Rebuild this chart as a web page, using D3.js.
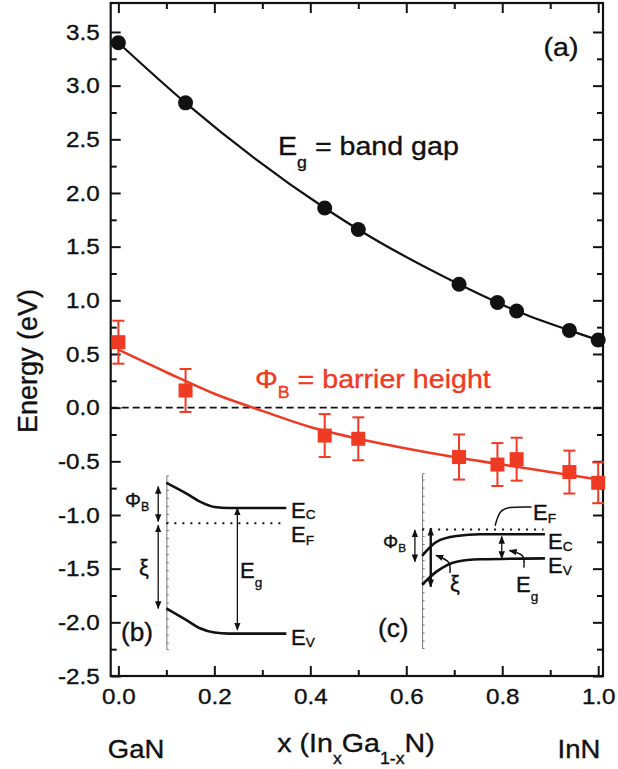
<!DOCTYPE html>
<html>
<head>
<meta charset="utf-8">
<script src="https://cdn.jsdelivr.net/npm/d3@7"></script>
<style>
  body { margin: 0; background: white; }
  svg { display: block; font-family: "Liberation Sans", Arial, sans-serif; }
  svg text { stroke-width: 0.35px; }
</style>
</head>
<body>
<script>
// In(x)Ga(1-x)N composition and measured energies (eV)
var xComp = [0, 0.14, 0.43, 0.50, 0.71, 0.79, 0.83, 0.94, 1.0]
var bandGap = [3.40, 2.84, 1.86, 1.66, 1.15, 0.98, 0.90, 0.72, 0.63]
var barrier = [0.61, 0.16, -0.26, -0.29, -0.46, -0.53, -0.48, -0.60, -0.70]
var barrierErr = [0.20, 0.20, 0.20, 0.20, 0.21, 0.20, 0.20, 0.20, 0.19]

// fitted barrier height curve
var fitX = [0, 0.1, 0.2, 0.3, 0.4, 0.5, 0.6, 0.7, 0.8, 0.9, 1.0]
var fitPhi = [0.54, 0.33, 0.13, -0.03, -0.18, -0.29, -0.38, -0.46, -0.53, -0.60, -0.67]

var xTicks = [0, 0.2, 0.4, 0.6, 0.8, 1.0]
var xMinor = [0.1, 0.3, 0.5, 0.7, 0.9]
var yTicks = [-2.5, -2.0, -1.5, -1.0, -0.5, 0.0, 0.5, 1.0, 1.5, 2.0, 2.5, 3.0, 3.5]
var yMinor = [-2.25, -1.75, -1.25, -0.75, -0.25, 0.25, 0.75, 1.25, 1.75, 2.25, 2.75, 3.25]

// inset (b): GaN band diagram, drawn in the plot's own units
var surfB = [0.1, -0.63, -2.25]
var ecB = [[0.1, -0.70], [0.142, -0.80], [0.17, -0.875], [0.2, -0.925], [0.23, -0.935], [0.35, -0.935]]
var evB = [[0.1, -1.87], [0.142, -1.98], [0.17, -2.055], [0.2, -2.095], [0.23, -2.105], [0.35, -2.105]]
var efB = [0.1, 0.348, -1.077]

// inset (c): InN band diagram
var surfC = [0.633, -0.61, -2.24]
var ecC = [[0.633, -1.38], [0.663, -1.25], [0.705, -1.196], [0.754, -1.18], [0.889, -1.18]]
var evC = [[0.633, -1.65], [0.663, -1.528], [0.705, -1.435], [0.754, -1.413], [0.889, -1.404]]
var efC = [0.633, 0.886, -1.135]
var xiLeadC = [[0.691, -1.54], [0.688, -1.44], [0.662, -1.375]]
var egLeadC = [[0.845, -1.49], [0.842, -1.38], [0.815, -1.33]]
var efLeadC = [[0.861, -0.925], [0.816, -0.93], [0.795, -0.98], [0.785, -1.10]]

var red = "#ef3a24"
var ink = "#111"

var svg = d3.select("body").append("svg")
    .attr("width", 618)
    .attr("height", 769)

var x = d3.scaleLinear().domain([-0.016, 1.01]).range([110.7, 603])
var y = d3.scaleLinear().domain([-2.5, 3.77]).range([676, 3])

var defs = svg.append("defs")
defs.append("marker")
    .attr("id", "ah")
    .attr("viewBox", "0 0 10 10")
    .attr("refX", 9).attr("refY", 5)
    .attr("markerUnits", "userSpaceOnUse")
    .attr("markerWidth", 8).attr("markerHeight", 8)
    .attr("orient", "auto-start-reverse")
  .append("path")
    .attr("d", "M0,1 L10,5 L0,9 z")
    .attr("fill", ink)

// text with subscripts, slightly widened like the original lettering
function label(parent, px, py, parts, size, opts) {
  opts = opts || {}
  var g = parent.append("g")
      .attr("transform", "translate(" + px + "," + py + ") scale(" + (opts.sx || 1.1) + ",1)")
  var t = g.append("text")
      .attr("font-size", size)
      .attr("text-anchor", opts.anchor || "start")
      .attr("fill", opts.color || ink)
      .attr("stroke", opts.color || ink)
  var shift = 0
  parts.forEach(function(p) {
    var want = p[1] ? size * (opts.drop || 0.3) : 0
    t.append("tspan")
      .attr("font-size", p[1] ? size * 0.62 : size)
      .attr("dy", want - shift)
      .text(p[0])
    shift = want
  })
  return g
}

// axes: ticks point inward on all four sides
function styleAxis(g) {
  g.select(".domain").remove()
  g.selectAll(".tick line").attr("stroke", ink).attr("stroke-width", 2)
  g.selectAll(".tick text")
    .attr("font-size", 22)
    .attr("fill", ink)
    .attr("stroke", ink)
    .attr("font-family", "Liberation Sans, Arial, sans-serif")
    .attr("transform", "scale(1.1,1)")
}
var fmt = function(d) { return d.toFixed(1) }

svg.append("g").attr("transform", "translate(0,676)")
    .call(d3.axisBottom(x).tickValues(xTicks).tickSize(-10).tickPadding(12).tickFormat(fmt))
    .call(styleAxis)
svg.append("g").attr("transform", "translate(0,676)")
    .call(d3.axisBottom(x).tickValues(xMinor).tickSize(-6).tickFormat(""))
    .call(styleAxis)
svg.append("g").attr("transform", "translate(0,3)")
    .call(d3.axisTop(x).tickValues(xTicks).tickSize(-10).tickFormat(""))
    .call(styleAxis)
svg.append("g").attr("transform", "translate(0,3)")
    .call(d3.axisTop(x).tickValues(xMinor).tickSize(-6).tickFormat(""))
    .call(styleAxis)
svg.append("g").attr("transform", "translate(110.7,0)")
    .call(d3.axisLeft(y).tickValues(yTicks).tickSize(-10).tickPadding(10).tickFormat(fmt))
    .call(styleAxis)
svg.append("g").attr("transform", "translate(110.7,0)")
    .call(d3.axisLeft(y).tickValues(yMinor).tickSize(-6).tickFormat(""))
    .call(styleAxis)
svg.append("g").attr("transform", "translate(603,0)")
    .call(d3.axisRight(y).tickValues(yTicks).tickSize(-10).tickFormat(""))
    .call(styleAxis)
svg.append("g").attr("transform", "translate(603,0)")
    .call(d3.axisRight(y).tickValues(yMinor).tickSize(-6).tickFormat(""))
    .call(styleAxis)

svg.append("rect")
    .attr("x", x.range()[0]).attr("y", y.range()[1])
    .attr("width", x.range()[1] - x.range()[0])
    .attr("height", y.range()[0] - y.range()[1])
    .attr("fill", "none").attr("stroke", ink).attr("stroke-width", 2.2)

// zero line
svg.append("line")
    .attr("x1", x.range()[0]).attr("x2", x.range()[1])
    .attr("y1", y(0)).attr("y2", y(0))
    .attr("stroke", ink).attr("stroke-width", 1.8)
    .attr("stroke-dasharray", "7,4")

// ---------- band gap ----------
var gapData = xComp.map(function(v, i) { return {x: v, e: bandGap[i]} })
var lineGap = d3.line().x(function(d) { return x(d.x) }).y(function(d) { return y(d.e) }).curve(d3.curveMonotoneX)
svg.append("path").datum(gapData)
    .attr("d", lineGap)
    .attr("fill", "none").attr("stroke", ink).attr("stroke-width", 2.2)
svg.selectAll(".gap").data(gapData).enter().append("circle")
    .attr("class", "gap")
    .attr("cx", function(d) { return x(d.x) })
    .attr("cy", function(d) { return y(d.e) })
    .attr("r", 7.5)
    .attr("fill", ink)

// ---------- barrier height ----------
var fitData = fitX.map(function(v, i) { return {x: v, e: fitPhi[i]} })
svg.append("path").datum(fitData)
    .attr("d", lineGap)
    .attr("fill", "none").attr("stroke", red).attr("stroke-width", 2.6)

var barData = xComp.map(function(v, i) { return {x: v, e: barrier[i], err: barrierErr[i]} })
var bars = svg.selectAll(".bar").data(barData).enter().append("g").attr("class", "bar")
bars.append("line")
    .attr("x1", function(d) { return x(d.x) }).attr("x2", function(d) { return x(d.x) })
    .attr("y1", function(d) { return y(d.e - d.err) }).attr("y2", function(d) { return y(d.e + d.err) })
    .attr("stroke", red).attr("stroke-width", 2)
;[-1, 1].forEach(function(s) {
  bars.append("line")
    .attr("x1", function(d) { return x(d.x) - 6 }).attr("x2", function(d) { return x(d.x) + 6 })
    .attr("y1", function(d) { return y(d.e + s * d.err) }).attr("y2", function(d) { return y(d.e + s * d.err) })
    .attr("stroke", red).attr("stroke-width", 2)
})
bars.append("rect")
    .attr("x", function(d) { return x(d.x) - 7 })
    .attr("y", function(d) { return y(d.e) - 7 })
    .attr("width", 14).attr("height", 14)
    .attr("fill", red)

// ---------- insets ----------
var band = d3.line().x(function(d) { return x(d[0]) }).y(function(d) { return y(d[1]) }).curve(d3.curveMonotoneX)
var lead = d3.line().x(function(d) { return x(d[0]) }).y(function(d) { return y(d[1]) }).curve(d3.curveNatural)

function surface(s) {
  var g = svg.append("g").attr("transform", "translate(" + x(s[0]) + ",0)")
  var sc = d3.scaleLinear().domain([s[1], s[2]]).range([y(s[1]), y(s[2])])
  g.call(d3.axisRight(sc).tickValues(d3.range(0, 21).map(function(i) { return s[1] - 0.06 - i * 0.075 })).tickSize(2.5).tickFormat(""))
  g.selectAll("path, line").attr("stroke", "#777").attr("stroke-width", 1)
}
function vArrow(xv, y0, y1, w) {
  svg.append("line")
    .attr("x1", x(xv)).attr("x2", x(xv))
    .attr("y1", y(y0)).attr("y2", y(y1))
    .attr("stroke", ink).attr("stroke-width", w || 1.3)
    .attr("marker-start", "url(#ah)").attr("marker-end", "url(#ah)")
}
function dotted(f) {
  svg.append("line")
    .attr("x1", x(f[0])).attr("x2", x(f[1]))
    .attr("y1", y(f[2])).attr("y2", y(f[2]))
    .attr("stroke", ink).attr("stroke-width", 2)
    .attr("stroke-dasharray", "2,6")
}
function curve(pts, w) {
  svg.append("path").attr("d", band(pts))
    .attr("fill", "none").attr("stroke", ink).attr("stroke-width", w || 2.6)
}

// (b)
surface(surfB)
curve(ecB)
curve(evB)
dotted(efB)
vArrow(0.083, -0.735, -1.06)
vArrow(0.083, -1.095, -1.87)
vArrow(0.248, -0.935, -2.07)
label(svg, 291, 518, [["E"], ["C", 1]], 22, {sx: 1, drop: 0.05})
label(svg, 291, 542, [["E"], ["F", 1]], 22, {sx: 1, drop: 0.12})
label(svg, 291, 645, [["E"], ["V", 1]], 22, {sx: 1, drop: 0.1})
label(svg, 240, 578, [["E"], ["g", 1]], 22, {sx: 1, drop: 0.4})
label(svg, 125, 507, [["Φ"], ["B", 1]], 20, {sx: 1, drop: 0.2})
label(svg, 144, 575, [["ξ"]], 22, {sx: 1, anchor: "middle"})
label(svg, 121, 641, [["(b)"]], 25, {sx: 1.05})

// (c)
surface(surfC)
curve(ecC)
curve(evC)
dotted(efC)
vArrow(0.618, -1.14, -1.435)
vArrow(0.651, -1.124, -1.668, 2.4)
vArrow(0.799, -1.20, -1.404)
svg.append("path").attr("d", lead(xiLeadC)).attr("fill", "none").attr("stroke", ink).attr("stroke-width", 1.5).attr("marker-end", "url(#ah)")
svg.append("path").attr("d", lead(egLeadC)).attr("fill", "none").attr("stroke", ink).attr("stroke-width", 1.5).attr("marker-end", "url(#ah)")
svg.append("path").attr("d", lead(efLeadC)).attr("fill", "none").attr("stroke", ink).attr("stroke-width", 1.5)
label(svg, 533, 520, [["E"], ["F", 1]], 22, {sx: 1, drop: 0.15})
label(svg, 548, 549, [["E"], ["C", 1]], 22, {sx: 1, drop: 0.1})
label(svg, 548, 573, [["E"], ["V", 1]], 22, {sx: 1, drop: 0.1})
label(svg, 516, 592, [["E"], ["g", 1]], 22, {sx: 1, drop: 0.4})
label(svg, 455, 591, [["ξ"]], 22, {sx: 1, anchor: "middle"})
label(svg, 383, 548, [["Φ"], ["B", 1]], 19, {sx: 1, drop: 0.2})
label(svg, 378, 637, [["(c)"]], 25, {sx: 1.05})

// ---------- text ----------
label(svg, 278, 155, [["E"], ["g", 1], [" = band gap"]], 26, {drop: 0.5})
label(svg, 255, 388, [["Φ"], ["B", 1], [" = barrier height"]], 26, {drop: 0.4, color: red})
label(svg, 561, 56, [["(a)"]], 26, {anchor: "middle"})

svg.append("g").attr("transform", "translate(37,361) rotate(-90)")
  .append("text")
    .attr("text-anchor", "middle")
    .attr("font-size", 27)
    .attr("fill", ink)
    .attr("stroke", ink)
    .text("Energy (eV)")

label(svg, 356, 752, [["x (In"], ["x", 1], ["Ga"], ["1-x", 1], ["N)"]], 26, {anchor: "middle", drop: 0.45})
label(svg, 136, 758, [["GaN"]], 25, {anchor: "middle"})
label(svg, 579, 758, [["InN"]], 25, {anchor: "middle"})
</script>
</body>
</html>
